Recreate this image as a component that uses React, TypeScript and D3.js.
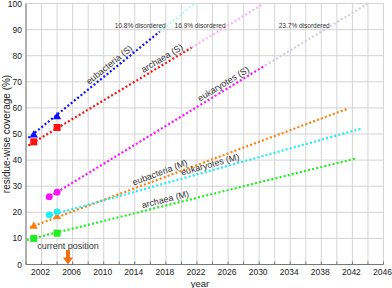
import React from "react";
import * as d3 from "d3";

const W = 392;
const H = 288;

// Series: line start/end (year, value), faded continuation end, markers
const seriesNames = ["eubacteria (S)", "archaea (S)", "eukaryotes (S)", "eubacteria (M)", "eukaryotes (M)", "archaea (M)"];
const seriesColors = ["#1010ff", "#ff1010", "#ff10ff", "#ff8010", "#20eef0", "#20ee20"];
const fadeColors = ["#aaffee", "#ffb0ff", "#d0ccee", "", "", ""];
const lineStartYear = [2000.3, 2000.3, 2002.6, 2000.5, 2002.7, 2000.1];
const lineStartValue = [48.5, 45.6, 25.2, 14.2, 18.5, 9.4];
const lineEndYear = [2017.2, 2021.3, 2030.8, 2041.4, 2043.2, 2042.4];
const lineEndValue = [89.2, 83.1, 76.3, 59.7, 52.1, 40.6];
const fadeEndYear = [2021.7, 2030.6, 2044.0, 0, 0, 0];
const fadeEndValue = [100, 100, 100, 0, 0, 0];
const markerShape = ["triangle", "square", "circle", "triangle", "circle", "square"];
const markerYears = [[2001, 2004], [2001, 2004], [2003, 2004], [2001, 2004], [2003, 2004], [2001, 2004]];
const markerValues = [[49.8, 56.8], [47, 52.5], [26, 27.7], [14.8, 18.5], [19, 20.2], [10, 12]];
const labelYear = [2011.2, 2017.9, 2025.8, 2017.5, 2023.9, 2018.1];

const disorderLabels = ["10.8% disordered", "16.9% disordered", "23.7% disordered"];
const disorderYears = [2014.7, 2022.4, 2035.8];
const disorderValue = 90.8;

const xTickLabels = [2002, 2006, 2010, 2014, 2018, 2022, 2026, 2030, 2034, 2038, 2042, 2046];
const xGrid = d3.range(2000, 2047, 2);
const yTicks = [0, 10, 20, 30, 40, 50, 60, 70, 80, 90, 100];
const currentYear = 2005.4;

const FONT = "Liberation Sans, Arial, Helvetica, sans-serif";

export default function App() {
  const x = d3.scaleLinear().domain([2000, 2046]).range([26, 383.5]);
  const y = d3.scaleLinear().domain([0, 100]).range([264.5, 3.5]);
  const line = d3.line<[number, number]>().x((d) => x(d[0])).y((d) => y(d[1]));

  const marker = (shape: string, cx: number, cy: number, color: string, key: string) => {
    if (shape === "square") {
      return <rect key={key} x={cx - 3.5} y={cy - 3.5} width={7} height={7} fill={color} />;
    }
    if (shape === "circle") {
      return <circle key={key} cx={cx} cy={cy} r={3.4} fill={color} />;
    }
    const s = d3.symbol().type(d3.symbolTriangle).size(30)();
    return <path key={key} d={s || ""} transform={`translate(${cx},${cy + 0.5})`} fill={color} />;
  };

  return (
    <svg width={W} height={H} style={{ position: "absolute", left: 0, top: 0, background: "#fff" }} fontFamily={FONT}>
      {/* grid */}
      {xGrid.map((g) => (
        <line key={"gx" + g} x1={x(g)} x2={x(g)} y1={y(100)} y2={y(0)} stroke="#d4d4d4" strokeWidth={1} />
      ))}
      {yTicks.map((t) => (
        <line key={"gy" + t} x1={x(2000)} x2={x(2046)} y1={y(t)} y2={y(t)} stroke="#d4d4d4" strokeWidth={1} />
      ))}
      {/* axes */}
      <line x1={x(2000)} x2={x(2000)} y1={y(100)} y2={y(0)} stroke="#777" strokeWidth={1} />
      <line x1={x(2000)} x2={x(2046)} y1={y(0)} y2={y(0)} stroke="#777" strokeWidth={1} />
      {xGrid.map((g) => (
        <line key={"tx" + g} x1={x(g)} x2={x(g)} y1={y(0)} y2={y(0) - 3} stroke="#777" strokeWidth={1} />
      ))}
      {yTicks.map((t) => (
        <text key={"yl" + t} x={22} y={y(t) + 3} fontSize={8.5} textAnchor="end" fill="#222">{t}</text>
      ))}
      {xTickLabels.map((t) => (
        <text key={"xl" + t} x={x(t) - 1} y={275} fontSize={8.5} textAnchor="middle" fill="#222">{t}</text>
      ))}
      <text x={200} y={287} fontSize={9.5} textAnchor="middle" fill="#222">year</text>
      <text transform={`translate(10,${y(50)}) rotate(-90)`} fontSize={10} textAnchor="middle" fill="#222">residue-wise coverage (%)</text>

      {/* faded continuations */}
      {seriesNames.map((n, i) =>
        fadeEndYear[i] ? (
          <path key={"f" + i} d={line([[lineEndYear[i], lineEndValue[i]], [fadeEndYear[i], fadeEndValue[i]]]) || ""}
            stroke={fadeColors[i]} strokeWidth={2.2} strokeDasharray="2,2.2" fill="none" />
        ) : null
      )}
      {/* lines */}
      {seriesNames.map((n, i) => (
        <path key={"l" + i} d={line([[lineStartYear[i], lineStartValue[i]], [lineEndYear[i], lineEndValue[i]]]) || ""}
          stroke={seriesColors[i]} strokeWidth={2.2} strokeDasharray="2,2.2" fill="none" />
      ))}
      {/* markers */}
      {seriesNames.map((n, i) =>
        markerYears[i].map((yr, j) => marker(markerShape[i], x(yr), y(markerValues[i][j]), seriesColors[i], `m${i}_${j}`))
      )}
      {/* line labels */}
      {seriesNames.map((n, i) => {
        const x0 = x(lineStartYear[i]), y0 = y(lineStartValue[i]);
        const x1 = x(lineEndYear[i]), y1 = y(lineEndValue[i]);
        const ang = (Math.atan2(y1 - y0, x1 - x0) * 180) / Math.PI;
        const t = (x(labelYear[i]) - x0) / (x1 - x0);
        const px = x0 + t * (x1 - x0);
        const py = y0 + t * (y1 - y0);
        return (
          <text key={"t" + i} transform={`translate(${px},${py}) rotate(${ang})`} y={-3} fontSize={9}
            textAnchor="middle" fill="#333">{n}</text>
        );
      })}
      {/* disordered labels */}
      {disorderLabels.map((d, i) => (
        <text key={"d" + i} x={x(disorderYears[i])} y={y(disorderValue)} fontSize={6.5} textAnchor="middle" fill="#333">{d}</text>
      ))}
      {/* current position */}
      <text x={x(currentYear)} y={249} fontSize={9} textAnchor="middle" fill="#333">current position</text>
      <rect x={x(currentYear) - 2} y={250} width={4} height={8} fill="#f07010" />
      <path d={`M${x(currentYear) - 5},257.5 L${x(currentYear) + 5},257.5 L${x(currentYear)},264.5 Z`} fill="#f07010" />
    </svg>
  );
}
